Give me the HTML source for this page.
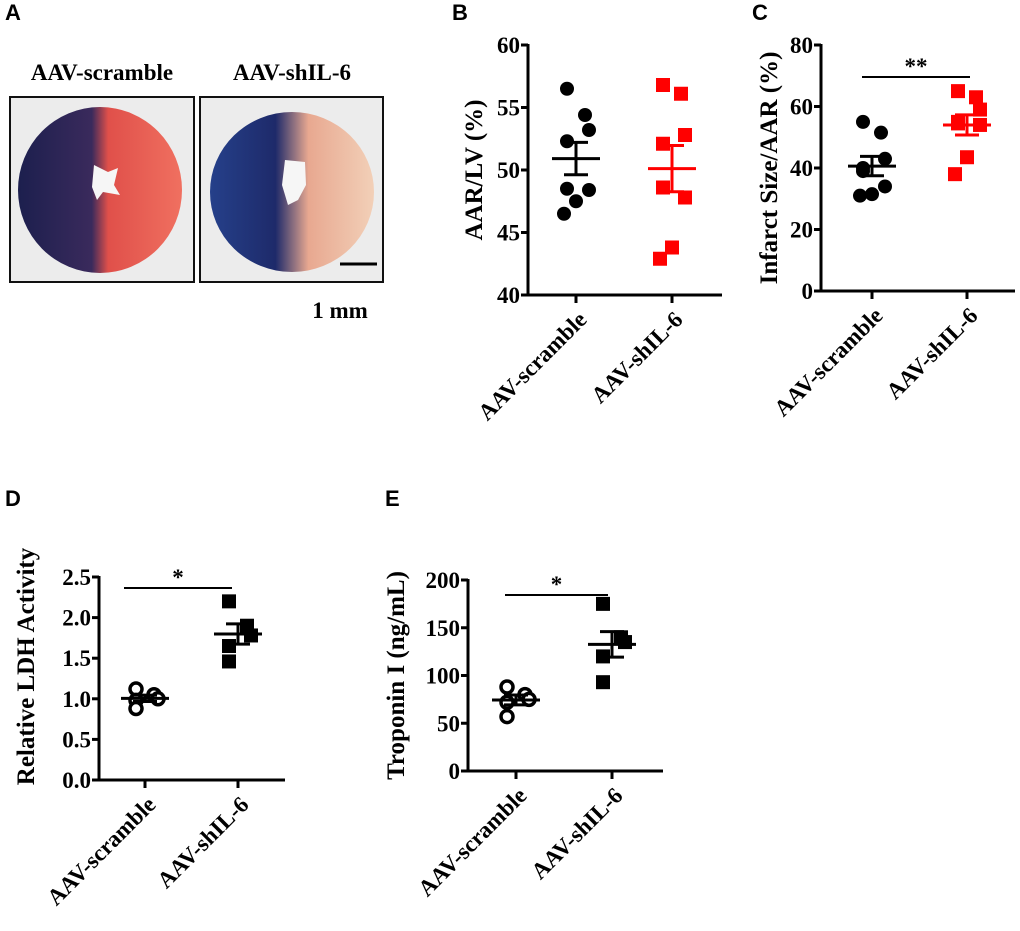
<!DOCTYPE html>
<html><head><meta charset="utf-8"><style>
body{margin:0;background:#fff;width:1020px;height:931px;overflow:hidden}
svg{display:block}
.pl{font-family:"Liberation Sans",sans-serif;font-weight:bold;font-size:22px}
.tk{font-family:"Liberation Serif",serif;font-weight:bold;font-size:23px}
.yl{font-family:"Liberation Serif",serif;font-weight:bold;font-size:25px}
.xl{font-family:"Liberation Serif",serif;font-weight:bold;font-size:23px}
</style></head><body>
<svg id="fig" width="1020" height="931" viewBox="0 0 1020 931">
<defs>
<linearGradient id="h1r" x1="0" x2="1"><stop offset="0" stop-color="#1c1f4e"/><stop offset="0.45" stop-color="#3a2a5c"/><stop offset="0.55" stop-color="#e0504a"/><stop offset="1" stop-color="#f07060"/></linearGradient>
<linearGradient id="h2r" x1="0" x2="1"><stop offset="0" stop-color="#25408a"/><stop offset="0.4" stop-color="#1e2a6a"/><stop offset="0.6" stop-color="#e8a890"/><stop offset="1" stop-color="#f2d0b8"/></linearGradient>
</defs>
<text class="pl" x="5" y="20">A</text>
<text class="pl" x="452" y="20">B</text>
<text class="pl" x="752" y="20">C</text>
<text class="pl" x="5" y="506">D</text>
<text class="pl" x="385" y="506">E</text>
<g>
<text class="tk" x="102" y="80" text-anchor="middle" font-size="22">AAV-scramble</text>
<text class="tk" x="292" y="80" text-anchor="middle" font-size="22">AAV-shIL-6</text>
<rect x="10" y="97" width="184" height="185" fill="#ececec" stroke="#111" stroke-width="2"/>
<ellipse cx="100" cy="190" rx="82" ry="83" fill="url(#h1r)"/>
<path d="M94 165 L108 172 L118 168 L114 185 L120 195 L103 192 L97 200 L92 187 Z" fill="#f6f6f6"/>
<rect x="200" y="97" width="183" height="185" fill="#ececec" stroke="#111" stroke-width="2"/>
<ellipse cx="292" cy="192" rx="82" ry="80" fill="url(#h2r)"/>
<path d="M285 160 L305 162 L306 185 L298 200 L288 205 L282 185 Z" fill="#f6f6f6"/>
<line x1="340" y1="264" x2="377" y2="264" stroke="#000" stroke-width="3"/>
<text class="tk" x="340" y="318" text-anchor="middle" font-size="21">1 mm</text>
</g>
<g id="charts"></g>
</svg>
<script>
// Panel B
const bCats=["AAV-scramble","AAV-shIL-6"];
const bTicks=[40,45,50,55,60];
const bG1=[56.5,54.4,53.2,52.3,48.5,48.4,47.5,46.5];
const bG2=[56.8,56.1,52.8,52.1,48.6,47.8,43.8,42.9];
// Panel C
const cTicks=[0,20,40,60,80];
const cG1=[55,51.5,43,40,39,34,31.5,31];
const cG2=[65,63,59,55,54.5,54,43.5,38];
// Panel D
const dTicks=[0.0,0.5,1.0,1.5,2.0,2.5];
const dTickLabels=["0.0","0.5","1.0","1.5","2.0","2.5"];
const dG1=[1.12,1.05,1.0,0.98,0.88];
const dG2=[2.2,1.9,1.78,1.65,1.46];
// Panel E
const eTicks=[0,50,100,150,200];
const eG1=[88,80,75,72,57];
const eG2=[175,140,135,120,93];

const NS="http://www.w3.org/2000/svg";
const root=document.getElementById('charts');
function mk(tag,attrs,parent){const e=document.createElementNS(NS,tag);for(const k in attrs)e.setAttribute(k,attrs[k]);parent.appendChild(e);return e;}
function mean(a){return a.reduce((s,v)=>s+v,0)/a.length}
function sem(a){const m=mean(a);return Math.sqrt(a.reduce((s,v)=>s+(v-m)*(v-m),0)/(a.length-1))/Math.sqrt(a.length)}
const jitter=[-9,9,13,-9,-9,13,0,-12];
function chart(o){
  const g=mk('g',{},root);
  
  
  const ymin=o.ticks[0],ymax=o.ticks[o.ticks.length-1];
  const y=v=>o.y0+(o.y1-o.y0)*(v-ymin)/(ymax-ymin);
  const x=i=>o.xs[i];
  const ax=mk('path',{d:`M${o.ax} ${o.y1-1}V${o.y0}H${o.axEnd}`,fill:'none',stroke:'#000','stroke-width':3},g);
  
  
  o.ticks.forEach((t,i)=>{
    mk('line',{x1:o.ax-7,x2:o.ax,y1:y(t),y2:y(t),stroke:'#000','stroke-width':3},g);
    const tx=mk('text',{x:o.ax-8,y:y(t)+8,'text-anchor':'end',class:'tk'},g);
    tx.textContent=o.tickLabels?o.tickLabels[i]:String(t);
    
    
  });
  const yl=mk('text',{x:0,y:0,class:'yl','text-anchor':'middle',transform:`translate(${o.ylx},${(o.y0+o.y1)/2+o.yloff}) rotate(-90)`},g);
  yl.textContent=o.ylabel;
  
  
  bCats.forEach((c,i)=>{
    mk('line',{x1:x(i),x2:x(i),y1:o.y0,y2:o.y0+8,stroke:'#000','stroke-width':3},g);
    const t=mk('text',{x:0,y:0,class:'xl','text-anchor':'end',transform:`translate(${x(i)+12},${o.y0+26}) rotate(-45)`},g);
    t.textContent=c;
    
    
  });
  [o.g1,o.g2].forEach((arr,gi)=>{
    const col=o.colors[gi];
    arr.forEach((v,k)=>{
      const cx=x(gi)+jitter[k%jitter.length];
      let m;
      if(o.shapes[gi]==='circle') m=mk('circle',{cx:cx,cy:y(v),r:7,fill:col},g);
      else if(o.shapes[gi]==='open') m=mk('circle',{cx:cx,cy:y(v),r:6,fill:'#fff',stroke:col,'stroke-width':3.5},g);
      else m=mk('rect',{x:cx-7,y:y(v)-7,width:14,height:14,fill:col},g);
      
      
    });
    const m=mean(arr),s=sem(arr);
    const ml=mk('line',{x1:x(gi)-24,x2:x(gi)+24,y1:y(m),y2:y(m),stroke:col,'stroke-width':3},g);
    
    
    const eb=mk('path',{d:`M${x(gi)} ${y(m-s)}V${y(m+s)}M${x(gi)-12} ${y(m-s)}h24M${x(gi)-12} ${y(m+s)}h24`,stroke:col,'stroke-width':3,fill:'none'},g);
    
    
  });
  if(o.sig){
    const sl=mk('line',{x1:o.sig[0],x2:o.sig[1],y1:o.sig[2],y2:o.sig[2],stroke:'#000','stroke-width':2},g);
    
    
    const st=mk('text',{x:(o.sig[0]+o.sig[1])/2,y:o.sig[2]-3,'text-anchor':'middle',class:'tk','font-size':20},g);
    st.textContent=o.sig[3];
    
    
  }
}
chart({name:'chart-b-aar-lv',ticks:bTicks,g1:bG1,g2:bG2,y0:295,y1:45,ax:528,axEnd:722,xs:[576,672],ylx:482,yloff:0,ylabel:'AAR/LV (%)',colors:['#000','#f00'],shapes:['circle','square']});
chart({name:'chart-c-infarct-size',ticks:cTicks,g1:cG1,g2:cG2,y0:291,y1:45,ax:821,axEnd:1015,xs:[872,967],ylx:777,yloff:0,ylabel:'Infarct Size/AAR (%)',colors:['#000','#f00'],shapes:['circle','square'],sig:[862,970,77,'**']});
chart({name:'chart-d-ldh',ticks:dTicks,tickLabels:dTickLabels,g1:dG1,g2:dG2,y0:780,y1:577,ax:99,axEnd:285,xs:[145,238],ylx:34,yloff:-12,ylabel:'Relative LDH Activity',colors:['#000','#000'],shapes:['open','square'],sig:[124,232,588,'*']});
chart({name:'chart-e-troponin',ticks:eTicks,g1:eG1,g2:eG2,y0:771,y1:580,ax:468,axEnd:663,xs:[516,612],ylx:404,yloff:0,ylabel:'Troponin I (ng/mL)',colors:['#000','#000'],shapes:['open','square'],sig:[505,608,595,'*']});
</script>
</body></html>
